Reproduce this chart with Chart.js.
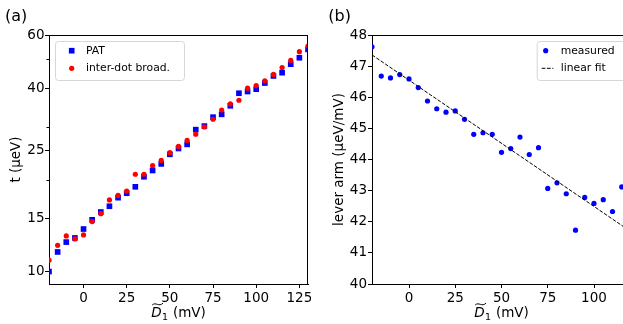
<!DOCTYPE html>
<html>
<head>
<meta charset="utf-8">
<script src="https://cdn.jsdelivr.net/npm/chart.js@4.4.1/dist/chart.umd.min.js"></script>
<style>
  html, body { margin: 0; padding: 0; background: #fff; overflow: hidden; width: 623px; height: 324px; }
  #wrapA { position: absolute; left: 0; top: 0; width: 311px; height: 324px; }
  #wrapB { position: absolute; left: 311px; top: 0; width: 312px; height: 324px; overflow: hidden; }
</style>
</head>
<body>
<div id="wrapA"><canvas id="chartA" width="311" height="324"></canvas></div>
<div id="wrapB"><canvas id="chartB" width="320" height="324"></canvas></div>
<script>
// panel (a): tunnel coupling vs detuning
const detuning = [-20, -15, -10, -5, 0, 5, 10, 15, 20, 25, 30, 35, 40, 45, 50, 55, 60, 65, 70, 75, 80, 85, 90, 95, 100, 105, 110, 115, 120, 125, 130];
const patT = [10.0, 11.6, 12.5, 12.9, 13.8, 14.8, 15.7, 16.4, 17.5, 18.1, 19.0, 20.5, 21.5, 22.6, 24.3, 25.4, 26.2, 29.3, 30.1, 32.2, 32.9, 35.1, 38.6, 39.1, 39.8, 41.7, 44.0, 45.1, 48.1, 50.5, 53.8];
const broadT = [10.9, 12.2, 13.1, 12.8, 13.2, 14.6, 15.5, 17.2, 17.8, 18.4, 20.9, 20.9, 22.3, 23.2, 24.6, 25.8, 27.0, 28.3, 29.9, 31.7, 34.0, 35.6, 36.6, 40.1, 40.9, 42.4, 44.5, 46.9, 49.5, 52.9, 55.2];
const tTicks = [10, 15, 25, 40, 60];
const tMinorTicks = [20, 30, 50];
const detuningTicks = [0, 25, 50, 75, 100, 125];

// panel (b): lever arm vs detuning
const leverDetuning = [-20, -15, -10, -5, 0, 5, 10, 15, 20, 25, 30, 35, 40, 45, 50, 55, 60, 65, 70, 75, 80, 85, 90, 95, 100, 105, 110, 115];
const leverArm = [47.62, 46.68, 46.62, 46.73, 46.59, 46.31, 45.88, 45.63, 45.52, 45.56, 45.29, 44.81, 44.86, 44.81, 44.23, 44.35, 44.72, 44.16, 44.38, 43.07, 43.25, 42.90, 41.73, 42.78, 42.59, 42.71, 42.33, 43.12];
const fitX = [-20, 120];
const fitY = [47.36, 41.68];
const leverTicks = [40, 41, 42, 43, 44, 45, 46, 47, 48];
const leverDetuningTicks = [0, 25, 50, 75, 100];

const FONT = 'DejaVu Sans';

function toPoints(xs, ys) {
  return xs.map((x, i) => ({ x: x, y: ys[i] }));
}

// matplotlib-like extras: top/right spines, minor ticks, legend box, panel label, x title
const extras = {
  id: 'extras',
  afterDraw(chart, args, opts) {
    const ctx = chart.ctx;
    const a = chart.chartArea;
    ctx.save();
    // spines
    ctx.strokeStyle = '#000';
    ctx.lineWidth = 1;
    ctx.beginPath();
    ctx.moveTo(Math.round(a.left), Math.round(a.top) + 0.5);
    ctx.lineTo(Math.round(a.right), Math.round(a.top) + 0.5);
    ctx.moveTo(Math.round(a.right) - 0.5, Math.round(a.top));
    ctx.lineTo(Math.round(a.right) - 0.5, Math.round(a.bottom));
    ctx.stroke();

    // minor ticks on y
    if (opts.minorTicks) {
      const ys = chart.scales.y;
      ctx.beginPath();
      opts.minorTicks.forEach(v => {
        const py = Math.round(ys.getPixelForValue(v)) + 0.5;
        ctx.moveTo(a.left - 2.5, py);
        ctx.lineTo(a.left, py);
      });
      ctx.stroke();
    }

    // legend
    const b = opts.box;
    ctx.fillStyle = 'rgba(255,255,255,0.8)';
    ctx.strokeStyle = '#d6d6d6';
    ctx.beginPath();
    ctx.roundRect(b.x + 0.5, b.y + 0.5, b.w, b.h, 3);
    ctx.fill();
    ctx.stroke();
    ctx.font = '10.8px "' + FONT + '"';
    ctx.textBaseline = 'middle';
    ctx.textAlign = 'left';
    chart.data.datasets.forEach((ds, i) => {
      const y = b.y + b.rows[i];
      if (ds.showLine) {
        ctx.strokeStyle = ds.borderColor;
        ctx.lineWidth = ds.borderWidth;
        ctx.setLineDash(ds.borderDash);
        ctx.beginPath();
        ctx.moveTo(b.x + b.lineFrom, y);
        ctx.lineTo(b.x + b.lineTo, y);
        ctx.stroke();
        ctx.setLineDash([]);
      } else {
        ctx.fillStyle = ds.backgroundColor;
        ctx.beginPath();
        const mx = b.x + b.markerX;
        if (ds.pointStyle === 'rect') {
          const s = ds.pointRadius * Math.SQRT1_2;
          ctx.rect(mx - s, y - s, 2 * s, 2 * s);
        } else {
          ctx.arc(mx, y, ds.pointRadius, 0, Math.PI * 2);
        }
        ctx.fill();
      }
      ctx.fillStyle = '#000';
      ctx.fillText(ds.label, b.x + b.textX, y);
    });

    // panel label
    ctx.font = '16px "' + FONT + '"';
    ctx.textBaseline = 'middle';
    ctx.fillText(opts.panel, opts.panelX, 16.5);

    // x axis title: D~_1 (mV)
    const base = 317;
    const big = '13.5px "' + FONT + '"';
    const ital = 'italic 13.5px "' + FONT + '"';
    const small = '9.5px "' + FONT + '"';
    ctx.textBaseline = 'alphabetic';
    ctx.font = ital; const wD = ctx.measureText('D').width;
    ctx.font = small; const w1 = ctx.measureText('1').width;
    ctx.font = big; const wR = ctx.measureText(' (mV)').width;
    let x = (a.left + a.right) / 2 - (wD + w1 + 1 + wR) / 2;
    ctx.font = ital; ctx.fillText('D', x, base);
    // wide tilde over the D
    ctx.strokeStyle = '#000';
    ctx.lineWidth = 1;
    ctx.beginPath();
    const ty = base - 13;
    ctx.moveTo(x + 1, ty + 1);
    ctx.bezierCurveTo(x + 1 + wD * 0.35, ty - 2.5, x + 1 + wD * 0.65, ty + 3.5, x + wD + 1.5, ty - 1);
    ctx.stroke();
    x += wD + 0.5;
    ctx.font = small; ctx.fillText('1', x, base + 3);
    x += w1 + 0.5;
    ctx.font = big; ctx.fillText(' (mV)', x, base);
    ctx.restore();
  }
};

function axisCommon(pad) {
  return {
    ticks: { color: '#000', font: { family: FONT, size: 13.5 }, maxRotation: 0, autoSkip: false, padding: pad,
      callback: v => String(v) },
    grid: { drawOnChartArea: false, tickLength: 4, color: '#000', tickColor: '#000', tickWidth: 1 },
    border: { color: '#000', width: 1 }
  };
}

function noPad(s) {
  s.paddingLeft = 0; s.paddingRight = 0; s.paddingTop = 0; s.paddingBottom = 0;
}

new Chart(document.getElementById('chartA'), {
  type: 'scatter',
  data: {
    datasets: [
      { label: 'PAT', data: toPoints(detuning, patT), backgroundColor: '#0000ff', pointStyle: 'rect',
        pointRadius: 4.0, pointBorderWidth: 0, order: 1, clip: 0 },
      { label: 'inter-dot broad.', data: toPoints(detuning, broadT), backgroundColor: '#ff0000', pointStyle: 'circle',
        pointRadius: 2.6, pointBorderWidth: 0, order: 0, clip: 0 }
    ]
  },
  options: {
    responsive: false,
    animation: false,
    layout: { autoPadding: false, padding: { top: 35, right: 3, left: 0, bottom: 0 } },
    plugins: {
      legend: { display: false },
      tooltip: { enabled: false },
      extras: {
        minorTicks: tMinorTicks,
        panel: '(a)', panelX: 5,
        box: { x: 55, y: 41, w: 129, h: 39, rows: [9.7, 27.3], markerX: 16.7, textX: 31 }
      }
    },
    scales: {
      x: Object.assign(axisCommon(2), {
        type: 'linear', min: -20, max: 130,
        afterBuildTicks: s => { s.ticks = detuningTicks.map(v => ({ value: v })); },
        afterFit: s => { s.height = 40; noPad(s); }
      }),
      y: Object.assign(axisCommon(0.5), {
        type: 'logarithmic', min: 9.1, max: 60,
        afterBuildTicks: s => { s.ticks = tTicks.map(v => ({ value: v })); },
        afterFit: s => { s.width = 49; noPad(s); },
        title: { display: true, text: 't (µeV)', color: '#000', font: { family: FONT, size: 13.5 }, padding: { top: 8, bottom: 0 } }
      })
    }
  },
  plugins: [extras]
});

new Chart(document.getElementById('chartB'), {
  type: 'scatter',
  data: {
    datasets: [
      { label: 'measured', data: toPoints(leverDetuning, leverArm), backgroundColor: '#0000ff', pointStyle: 'circle',
        pointRadius: 2.6, pointBorderWidth: 0, order: 1, clip: 0 },
      { label: 'linear fit', data: toPoints(fitX, fitY), showLine: true, borderColor: '#000', borderWidth: 1,
        borderDash: [3.7, 1.6], pointRadius: 0, order: 0, clip: 0 }
    ]
  },
  options: {
    responsive: false,
    animation: false,
    layout: { autoPadding: false, padding: { top: 35, right: 0, left: 0, bottom: 0 } },
    plugins: {
      legend: { display: false },
      tooltip: { enabled: false },
      extras: {
        panel: '(b)', panelX: 17.3,
        box: { x: 225.7, y: 41, w: 88, h: 39, rows: [9.7, 27.3], markerX: 9, textX: 24, lineFrom: 5, lineTo: 16.6 }
      }
    },
    scales: {
      x: Object.assign(axisCommon(2), {
        type: 'linear', min: -20, max: 120,
        afterBuildTicks: s => { s.ticks = leverDetuningTicks.map(v => ({ value: v })); },
        afterFit: s => { s.height = 40; noPad(s); }
      }),
      y: Object.assign(axisCommon(1), {
        type: 'linear', min: 40, max: 48,
        afterBuildTicks: s => { s.ticks = leverTicks.map(v => ({ value: v })); },
        afterFit: s => { s.width = 61; noPad(s); },
        title: { display: true, text: 'lever arm (µeV/mV)', color: '#000', font: { family: FONT, size: 13.5 }, padding: { top: 20, bottom: 0 } }
      })
    }
  },
  plugins: [extras]
});
</script>
</body>
</html>
